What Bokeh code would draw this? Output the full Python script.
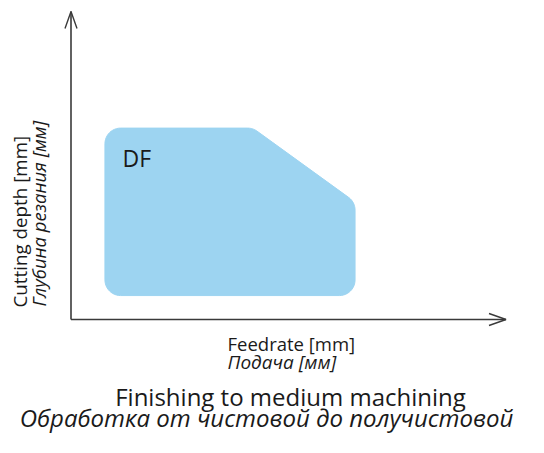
import math
from bokeh.plotting import figure
from bokeh.models import Range1d
from bokeh.core.properties import value
from bokeh.embed import file_html
from bokeh.resources import INLINE

# ---- data (feedrate / cutting depth, arbitrary units) ----
region_name = "DF"
region_feed = [0.78, 4.18, 6.53, 6.53, 0.78]
region_depth = [4.40, 4.40, 2.70, 0.55, 0.55]
corner_radius = 0.36

x_label_en = "Feedrate [mm]"
x_label_ru = "Подача [мм]"
y_label_en = "Cutting depth [mm]"
y_label_ru = "Глубина резания [мм]"
title_en = "Finishing to medium machining"
title_ru = "Обработка от чистовой до получистовой"

# ---- layout helpers (pixel -> data) ----
K = 43.5            # pixels per unit
OX, OY = 70.5, 319  # origin in picture pixels
W, H = 528, 437
TY = 8              # text baseline correction (px)
TX = 7              # rotated text correction (px)

def dx(px):
    return (px - OX) / K

def dy(py):
    return (OY - py) / K

FONT = "Open Sans"
TXT = "#1a1a1a"
AX = "#3a3a3a"
FILL = "#9dd4f1"


def rounded_polygon(xs, ys, r, n=12):
    pts = list(zip(xs, ys))
    m = len(pts)
    out_x, out_y = [], []
    for i in range(m):
        px, py = pts[i]
        ax, ay = pts[i - 1]
        bx, by = pts[(i + 1) % m]
        u1 = (ax - px, ay - py)
        u2 = (bx - px, by - py)
        l1 = math.hypot(*u1)
        l2 = math.hypot(*u2)
        u1 = (u1[0] / l1, u1[1] / l1)
        u2 = (u2[0] / l2, u2[1] / l2)
        cosa = max(-1.0, min(1.0, u1[0] * u2[0] + u1[1] * u2[1]))
        a = math.acos(cosa)
        t = r / math.tan(a / 2)
        bis = (u1[0] + u2[0], u1[1] + u2[1])
        bl = math.hypot(*bis)
        bis = (bis[0] / bl, bis[1] / bl)
        dc = r / math.sin(a / 2)
        cx, cy = px + bis[0] * dc, py + bis[1] * dc
        t1 = (px + u1[0] * t, py + u1[1] * t)
        t2 = (px + u2[0] * t, py + u2[1] * t)
        a1 = math.atan2(t1[1] - cy, t1[0] - cx)
        a2 = math.atan2(t2[1] - cy, t2[0] - cx)
        d = a2 - a1
        while d > math.pi:
            d -= 2 * math.pi
        while d < -math.pi:
            d += 2 * math.pi
        for j in range(n + 1):
            ang = a1 + d * j / n
            out_x.append(cx + r * math.cos(ang))
            out_y.append(cy + r * math.sin(ang))
    return out_x, out_y


p = figure(width=W, height=H, output_backend="svg", toolbar_location=None,
           x_axis_type=None, y_axis_type=None, min_border=0,
           x_range=Range1d(dx(0), dx(W)), y_range=Range1d(dy(H), dy(0)))
p.outline_line_color = None
p.grid.visible = False
p.background_fill_color = "white"
p.border_fill_color = "white"

# region
rx, ry = rounded_polygon(region_feed, region_depth, corner_radius)
p.patch(rx, ry, fill_color=FILL, line_color=FILL, line_width=1)

# axes with open arrow heads
x_end = dx(505.5)
y_end = dy(11)
head_len = 17 / K
head_w = 6 / K
p.line([0, x_end], [0, 0], line_color=AX, line_width=1.6)
p.line([0, 0], [0, y_end], line_color=AX, line_width=1.6)
p.line([x_end - head_len, x_end, x_end - head_len], [head_w, 0, -head_w],
       line_color=AX, line_width=1.4)
p.line([-head_w, 0, head_w], [y_end - head_len, y_end, y_end - head_len],
       line_color=AX, line_width=1.4)


def htext(x, y, s, size, italic=False, align="left"):
    p.text(x=[dx(x)], y=[dy(y - TY)], text=[s], text_font=value(FONT),
           text_font_size=size, text_color=TXT, text_align=align,
           text_font_style="italic" if italic else "normal",
           text_baseline="alphabetic")


def vtext(x, y, s, size, italic=False):
    p.text(x=[dx(x - TX)], y=[dy(y)], text=[s], text_font=value(FONT),
           text_font_size=size, text_color=TXT, text_align="left",
           text_font_style="italic" if italic else "normal",
           text_baseline="alphabetic", angle=math.pi / 2)


# region label
htext(122, 165, region_name, "23px")

# x axis labels
htext(227, 351, x_label_en, "18.5px")
htext(227, 369, x_label_ru, "19px", italic=True)

# y axis labels (rotated)
vtext(26, 307, y_label_en, "18.8px")
vtext(45, 306, y_label_ru, "18.5px", italic=True)

# title lines
htext(290, 404, title_en, "24px", align="center")
htext(266, 425, title_ru, "24px", italic=True, align="center")

open("out.html", "w").write(file_html(p, INLINE))
